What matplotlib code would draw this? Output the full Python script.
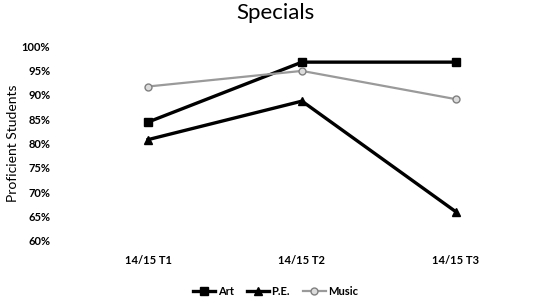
import matplotlib
matplotlib.use("Agg")
import matplotlib.pyplot as plt
from matplotlib.ticker import PercentFormatter

plt.rcParams["font.family"] = ["Lato", "DejaVu Sans"]

terms = ["14/15 T1", "14/15 T2", "14/15 T3"]
art = [84.4, 96.7, 96.7]
pe = [80.8, 88.7, 66.0]
music = [91.7, 94.9, 89.1]
y_ticks = [60, 65, 70, 75, 80, 85, 90, 95, 100]

fig = plt.figure(figsize=(5.51, 3.07), dpi=100)
ax = fig.add_axes([0.129, 0.215, 0.838, 0.635])

x = range(len(terms))
ax.plot(x, art, color="black", linewidth=2.4, marker="s", markersize=5.5, label="Art")
ax.plot(x, pe, color="black", linewidth=2.4, marker="^", markersize=5.5, label="P.E.")
ax.plot(x, music, color="#9a9a9a", linewidth=1.6, marker="o", markersize=5,
        markerfacecolor="#dcdcdc", markeredgecolor="#808080", label="Music")

ax.set_xlim(-0.5, 2.5)
ax.set_ylim(60, 100)
ax.set_yticks(y_ticks)
ax.yaxis.set_major_formatter(PercentFormatter(decimals=0))
ax.set_xticks(list(x))
ax.set_xticklabels(terms)
ax.tick_params(length=0, labelsize=8)
ax.tick_params(axis="y", pad=15)
ax.tick_params(axis="x", pad=10)
for lbl in ax.get_xticklabels() + ax.get_yticklabels():
    lbl.set_fontweight("bold")
for s in ax.spines.values():
    s.set_visible(False)

ax.set_ylabel("Proficient Students", fontsize=10, labelpad=2)
fig.suptitle("Specials", fontsize=16, y=0.99)

fig.legend(loc="lower center", ncol=3, frameon=False,
           prop={"size": 8, "weight": "bold"},
           bbox_to_anchor=(0.5, 0.0), handlelength=2.0, columnspacing=1.2,
           handletextpad=0.2)

fig.savefig("out.png", dpi=100)
